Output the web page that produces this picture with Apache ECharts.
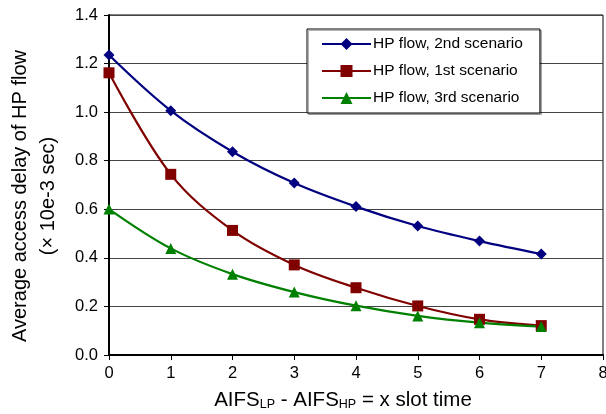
<!DOCTYPE html>
<html>
<head>
<meta charset="utf-8">
<script src="https://cdn.jsdelivr.net/npm/echarts@6/dist/echarts.min.js"></script>
<style>
  html, body { margin: 0; padding: 0; background: #fff; }
</style>
</head>
<body>
<div id="main" style="width:606px;height:414px;"></div>
<script>
// x slot values
var slots = [0, 1, 2, 3, 4, 5, 6, 7];
// delay values (x 10e-3 sec)
var scenario2 = [1.235, 1.006, 0.837, 0.708, 0.611, 0.531, 0.469, 0.416];
var scenario1 = [1.162, 0.744, 0.513, 0.371, 0.277, 0.202, 0.147, 0.121];
var scenario3 = [0.601, 0.439, 0.333, 0.259, 0.203, 0.161, 0.133, 0.117];

var names = ['HP flow, 2nd scenario', 'HP flow, 1st scenario', 'HP flow, 3rd scenario'];

function pairs(ys) {
  return slots.map(function (x, i) { return [x, ys[i]]; });
}

var font = 'Liberation Sans, Arial, sans-serif';
var myChart = echarts.init(document.getElementById('main'));

var option = {
  animation: false,
  grid: {
    left: 109, right: 3, top: 15, bottom: 59,
    outerBoundsMode: 'none',
    show: true, borderColor: '#000', borderWidth: 1
  },
  legend: {
    data: names,
    orient: 'vertical',
    left: 307,
    top: 29,
    padding: [7, 17, 7, 14],
    itemGap: 11,
    itemWidth: 49,
    itemHeight: 15,
    backgroundColor: '#fff',
    borderColor: '#000',
    borderWidth: 1,
    shadowColor: 'rgba(0,0,0,0.3)',
    shadowOffsetX: 1.5,
    shadowOffsetY: 1.5,
    textStyle: { fontFamily: font, fontSize: 15.5, color: '#000', padding: [0, 0, 0, -3] }
  },
  xAxis: {
    type: 'value',
    min: 0,
    max: 8,
    interval: 1,
    name: '{n|AIFS}{s|LP}{n| - AIFS}{s|HP}{n| = x slot time}',
    nameLocation: 'middle',
    nameGap: 33,
    nameTextStyle: {
      padding: [0, 26, 0, 0],
      rich: {
        n: { fontFamily: font, fontSize: 20.5, color: '#000', lineHeight: 24 },
        s: { fontFamily: font, fontSize: 12.5, color: '#000', lineHeight: 24, padding: [9, 0, 0, 0] }
      }
    },
    axisLine: { show: true, lineStyle: { color: '#000', width: 2 } },
    axisTick: { show: true, length: 5, lineStyle: { color: '#000' } },
    axisLabel: { fontFamily: font, fontSize: 16.5, color: '#000', margin: 10 },
    splitLine: { show: false }
  },
  yAxis: {
    type: 'value',
    min: 0,
    max: 1.4,
    interval: 0.2,
    name: 'Average access delay of HP flow\n(\u00d7 10e-3 sec)',
    nameLocation: 'middle',
    nameGap: 47,
    nameTextStyle: {
      fontFamily: font, fontSize: 20, color: '#000', lineHeight: 28,
      padding: [0, 22, 0, 0]
    },
    axisLine: { show: true, lineStyle: { color: '#000', width: 2 } },
    axisTick: { show: true, length: 5, lineStyle: { color: '#000' } },
    axisLabel: {
      fontFamily: font, fontSize: 16.5, color: '#000', margin: 11,
      formatter: function (v) { return v.toFixed(1); }
    },
    splitLine: { show: true, lineStyle: { color: '#444', width: 1 } }
  },
  series: [
    {
      name: names[0], type: 'line', smooth: 0.35, data: pairs(scenario2),
      symbol: 'diamond', symbolSize: 11,
      itemStyle: { color: '#000080' }, lineStyle: { color: '#000080', width: 2.2 }
    },
    {
      name: names[1], type: 'line', smooth: 0.35, data: pairs(scenario1),
      symbol: 'rect', symbolSize: 11,
      itemStyle: { color: '#800000' }, lineStyle: { color: '#800000', width: 2.2 }
    },
    {
      name: names[2], type: 'line', smooth: 0.35, data: pairs(scenario3),
      symbol: 'triangle', symbolSize: 11,
      itemStyle: { color: '#008000' }, lineStyle: { color: '#008000', width: 2.2 }
    }
  ]
};

myChart.setOption(option);
</script>
</body>
</html>
